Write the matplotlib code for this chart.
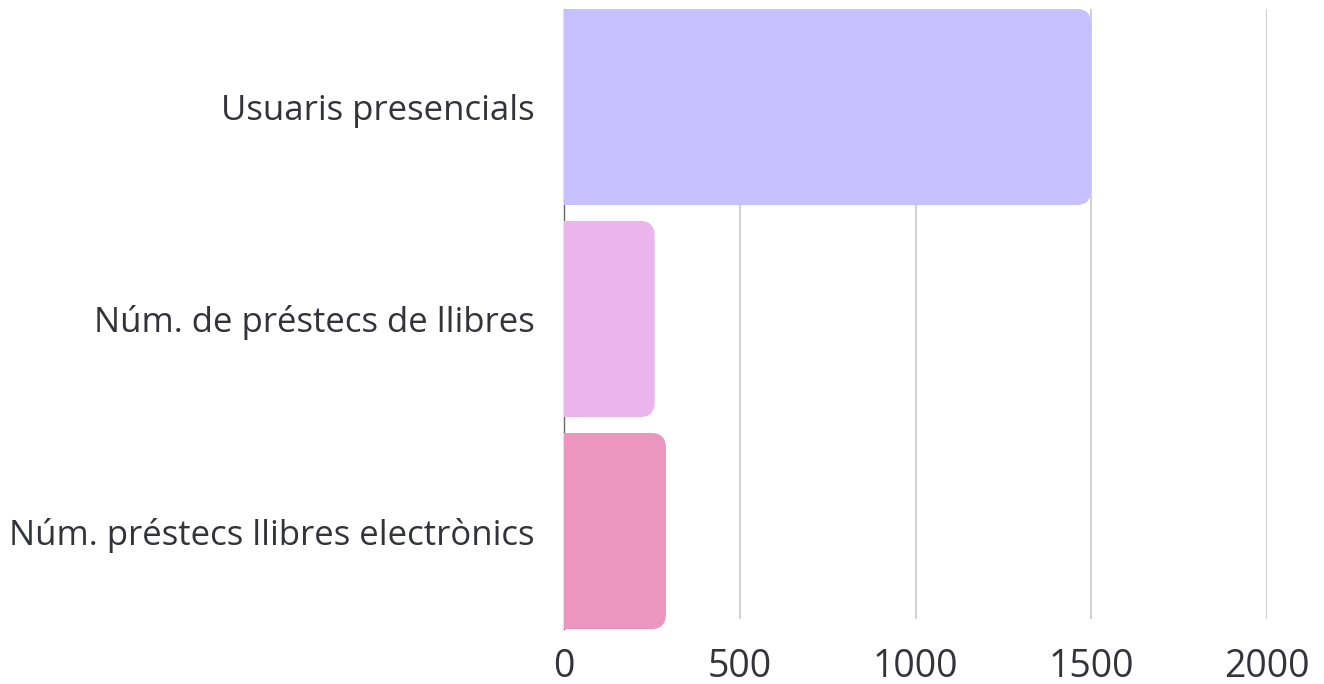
import matplotlib.pyplot as plt
from matplotlib.patches import FancyBboxPatch, Rectangle

categories = ["Usuaris presencials", "Núm. de préstecs de llibres", "Núm. préstecs llibres electrònics"]
values = [1500, 258, 290]
colors = ["#c6c1fe", "#eab4ec", "#ec95bf"]
xticks = [0, 500, 1000, 1500, 2000]

plt.rcParams["font.family"] = ["Open Sans", "DejaVu Sans"]

W, H = 1324, 684
fig = plt.figure(figsize=(W / 100, H / 100), dpi=100)
ax = fig.add_axes([564 / W, 1 - 629 / H, (1267 - 564) / W, (629 - 9) / H])

y_top, y_bot = -0.462, 2.462
ax.set_xlim(0, 2000)
ax.set_ylim(y_bot, y_top)
bar_h = 0.925

# pixel -> data scale, for rounded right corners
x_per_px = 2000 / ax.bbox.width
y_per_px = (y_bot - y_top) / ax.bbox.height
radius_px = 15
r = radius_px * x_per_px

for i, (v, c) in enumerate(zip(values, colors)):
    y0 = i - bar_h / 2
    rb = FancyBboxPatch((0, y0), v, bar_h,
                        boxstyle=f"round,pad=0,rounding_size={r}",
                        mutation_aspect=y_per_px / x_per_px,
                        facecolor=c, edgecolor="none", zorder=3)
    ax.add_patch(rb)
    # square off the left side
    ax.add_patch(Rectangle((0, y0), min(v / 2, r * 2), bar_h,
                           facecolor=c, edgecolor="none", zorder=3))

# grid lines stop a little above the bottom of the last bar
ax.vlines(xticks[1:], y_top, y_bot - 10 * y_per_px, color="#c8c8c8", linewidth=1.2, zorder=0)

ax.set_yticks(range(len(categories)))
ax.set_yticklabels(categories, fontsize=25, color="#33333b")
ax.set_xticks(xticks)
ax.set_xticklabels([str(t) for t in xticks], fontsize=27, color="#33333b")
ax.tick_params(axis="y", length=0, pad=21)
ax.tick_params(axis="x", length=0, pad=14)

for s in ["top", "right", "bottom"]:
    ax.spines[s].set_visible(False)
ax.spines["left"].set_color("#666666")
ax.spines["left"].set_linewidth(1)
ax.spines["left"].set_zorder(1)

fig.savefig("out.png", dpi=100)
